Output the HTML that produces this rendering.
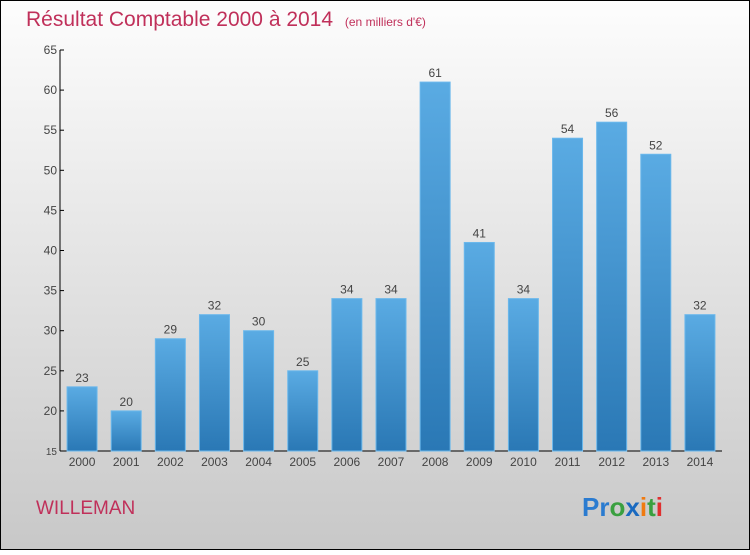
<!DOCTYPE html>
<html><head><meta charset="utf-8"><style>
html,body{margin:0;padding:0}
body{width:750px;height:550px;overflow:hidden;font-family:"Liberation Sans",sans-serif}
</style></head><body>
<svg width="750" height="550" xmlns="http://www.w3.org/2000/svg">
<defs>
<linearGradient id="bg" x1="0" y1="0" x2="0" y2="1"><stop offset="0" stop-color="#fdfdfd"/><stop offset="1" stop-color="#c8c8c8"/></linearGradient>
<linearGradient id="bar" x1="0" y1="0" x2="0" y2="1"><stop offset="0" stop-color="#5aabe3"/><stop offset="1" stop-color="#2a78b5"/></linearGradient>
</defs>
<rect x="0.5" y="0.5" width="749" height="549" fill="url(#bg)" stroke="#000"/>
<text x="26" y="26" font-size="21" fill="#c0305a">Résultat Comptable 2000 à 2014 <tspan font-size="12" dx="6">(en milliers d'€)</tspan></text>
<g id="axes"></g>
<g id="bars"></g>
<text x="36" y="514" font-size="19" fill="#c0305a">WILLEMAN</text>
<text x="582" y="516" font-size="26" font-weight="bold"><tspan fill="#2a7bd0">Pr</tspan><tspan fill="#3aa040">o</tspan><tspan fill="#1a6ac0">x</tspan><tspan fill="#f07a10">i</tspan><tspan fill="#3aa040">t</tspan><tspan fill="#e03030">i</tspan></text>
</svg>
<script>
const years=["2000","2001","2002","2003","2004","2005","2006","2007","2008","2009","2010","2011","2012","2013","2014"];
const values=[23,20,29,32,30,25,34,34,61,41,34,54,56,52,32];
const yTicks=[15,20,25,30,35,40,45,50,55,60,65];
const NS="http://www.w3.org/2000/svg";
const x0=60,x1=722,yTop=50,yBot=451,vMin=15,vMax=65;
const y=v=>yBot-(v-vMin)/(vMax-vMin)*(yBot-yTop);
const step=(x1-x0)/years.length;
const xc=i=>x0+step*(i+0.5);
function mk(t,a,p){const e=document.createElementNS(NS,t);for(const k in a)e.setAttribute(k,a[k]);p.appendChild(e);return e;}
const ax=document.getElementById('axes'),bg=document.getElementById('bars');
let l=mk('line',{x1:x0,y1:yTop,x2:x0,y2:yBot,stroke:'#000'},ax);


l=mk('line',{x1:x0,y1:yBot,x2:x1,y2:yBot,stroke:'#000'},ax);


yTicks.forEach(v=>{
 const t=mk('line',{x1:x0,y1:y(v),x2:x0+4,y2:y(v),stroke:'#000'},ax);
 
 
 const tx=mk('text',{x:x0-3,y:y(v)+4,'font-size':v===15?10:12,'text-anchor':'end',fill:'#444'},ax);
 tx.textContent=v;
 
 
});
years.forEach((yr,i)=>{
 const b=mk('rect',{x:xc(i)-15,y:y(values[i]),width:30,height:yBot-y(values[i]),fill:'url(#bar)',stroke:'#6bb8ec','stroke-width':1},bg);
 
 
 const vl=mk('text',{x:xc(i),y:y(values[i])-5,'font-size':12,'text-anchor':'middle',fill:'#444'},bg);
 vl.textContent=values[i];
 
 
 const xl=mk('text',{x:xc(i),y:466,'font-size':12,'text-anchor':'middle',fill:'#444'},bg);
 xl.textContent=yr;
 
 
});
</script>
</body></html>
